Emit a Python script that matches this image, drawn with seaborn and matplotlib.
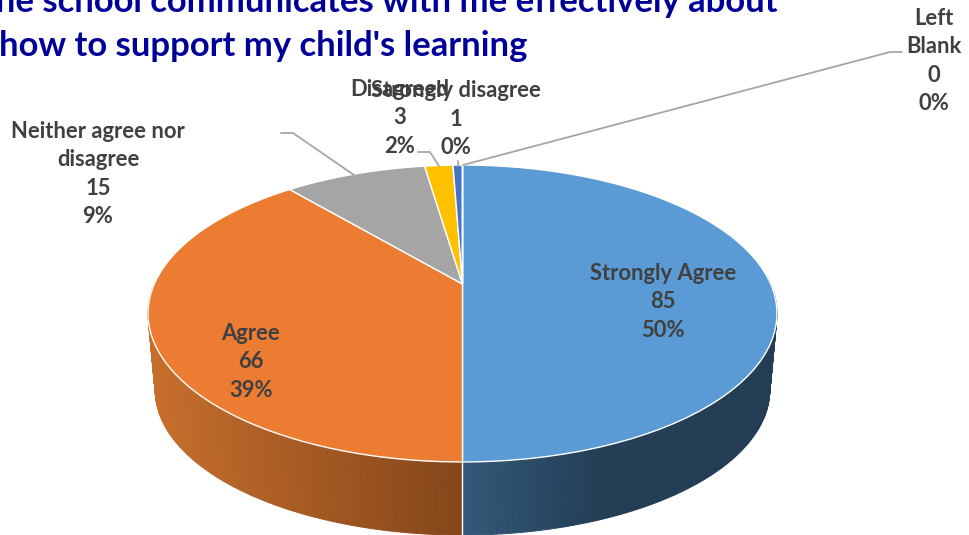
import numpy as np
import matplotlib
matplotlib.use("Agg")
import matplotlib.pyplot as plt
from matplotlib.path import Path
from matplotlib.transforms import Transform, Affine2D
import seaborn as sns

categories = ["Strongly Agree", "Agree", "Neither agree nor\ndisagree", "Disagreed", "Strongly disagree", "Left\nBlank"]
counts = [85, 66, 15, 3, 1, 0]
percents = ["50%", "39%", "9%", "2%", "0%", "0%"]
colors = ["#5B9BD5", "#EB7C31", "#A5A5A5", "#FFC000", "#4472C4", "#70AD47"]
title_lines = ["The school communicates with me effectively about", "how to support my child's learning"]

sns.set_theme(style="white")
plt.rcParams["font.family"] = ["Lato", "DejaVu Sans"]

W, H = 969, 535
CX, APEX_Y = 462.5, 284.0
A, B, K = 308.2, 142.6, 0.1987
DEPTH, SHRINK, MID_Y = 76.5, 0.977, 313.5


class Perspective(Transform):
    input_dims = output_dims = 2
    has_inverse = False
    is_affine = False

    def transform_non_affine(self, values):
        v = np.asarray(values, float)
        w = 1 + K * v[:, 1]
        return np.column_stack([CX + A * v[:, 0] / w, APEX_Y - B * v[:, 1] / w])

    def transform_path_non_affine(self, path):
        big = path.transformed(Affine2D().scale(500))
        polys = big.to_polygons(closed_only=True)
        return Path(self.transform_non_affine(polys[0] / 500))


def top_rim(theta):
    t = np.radians(theta)
    return Perspective().transform_non_affine(np.column_stack([np.cos(t), np.sin(t)]))


fig = plt.figure(figsize=(W / 100, H / 100), dpi=100)
ax = fig.add_axes([0, 0, 1, 1])

wedges, _ = ax.pie(counts, colors=colors, startangle=90, counterclock=False,
                   wedgeprops=dict(edgecolor="white", linewidth=1.0, zorder=5))
ax.set_aspect("auto")
ax.set_xlim(0, W)
ax.set_ylim(H, 0)
ax.axis("off")
persp = Perspective()
for w in wedges:
    w.set_transform(persp + ax.transData)


def shade(x, stops, cols):
    rgb = np.array([matplotlib.colors.to_rgb(c) for c in cols])
    return [np.interp(x, stops, rgb[:, i]) for i in range(3)]


wall_shades = {
    0: ([462, 600, 780], ["#35597A", "#233E55", "#233D54"]),
    1: ([148, 462], ["#C86F2C", "#84461A"]),
}
for i, (stops, cols) in wall_shades.items():
    lo, hi = sorted([wedges[i].theta1, wedges[i].theta2])
    th = np.linspace(lo, hi, 240)
    p = top_rim(th)
    q = np.column_stack([CX + SHRINK * (p[:, 0] - CX),
                         MID_Y + DEPTH + SHRINK * (p[:, 1] - MID_Y)])
    for j in range(len(th) - 1):
        if np.sin(np.radians(th[j])) > 0.05:
            continue
        xs = [p[j, 0], p[j + 1, 0], q[j + 1, 0], q[j, 0]]
        ys = [p[j, 1], p[j + 1, 1], q[j + 1, 1], q[j, 1]]
        c = shade(np.mean(xs), stops, cols)
        ax.fill(xs, ys, color=c, lw=0.7, zorder=2)

# seam between the two front walls, from the shared slice edge
seam = top_rim(np.array([wedges[0].theta1]))[0]
ax.plot([seam[0], seam[0]], [seam[1], MID_Y + DEPTH + SHRINK * (seam[1] - MID_Y)],
        color="white", lw=1.0, zorder=3)

ink = "#404040"
label_xy = [(663, 302), (251, 362), (98, 174), (400, 118), (456, 119), (934, 61)]
for name, n, pct, (x, y) in zip(categories, counts, percents, label_xy):
    ax.text(x, y, f"{name}\n{n}\n{pct}", ha="center", va="center", color=ink,
            fontsize=15.8, fontweight="bold", linespacing=1.42, zorder=8)

leaders = [
    ([281, 293, 354], [133, 133, 175]),
    ([418, 430, 439], [152, 152, 166]),
    ([458, 458], [161, 166]),
    ([463, 890, 902], [165, 52, 52]),
]
for xs, ys in leaders:
    ax.plot(xs, ys, color="#A6A6A6", lw=1.3, zorder=7)

for (line, x, y) in zip(title_lines, [-25, -1], [2, 45.5]):
    ax.text(x, y, line, ha="left", va="center", color="#000099",
            fontsize=24.9, fontweight="bold", zorder=8)

fig.savefig("out.png", dpi=100)
